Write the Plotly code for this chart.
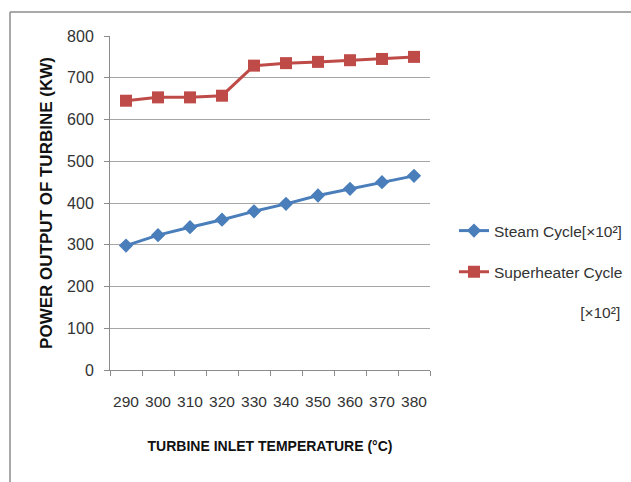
import plotly.graph_objects as go

# Turbine inlet temperature categories (°C)
temperatures = ["290", "300", "310", "320", "330", "340", "350", "360", "370", "380"]

# Power output of turbine (kW, ×10²)
steam_cycle = [298, 323, 342, 360, 380, 398, 418, 434, 450, 465]
superheater_cycle = [645, 653, 653, 657, 729, 735, 738, 742, 745, 750]

y_ticks = [0, 100, 200, 300, 400, 500, 600, 700, 800]

FONT = "Liberation Sans"
NBSP = "\u00a0"

fig = go.Figure()

fig.add_trace(go.Scatter(
    x=temperatures, y=steam_cycle,
    mode="lines+markers",
    name="Steam Cycle[×10²]",
    legendgroup="steam",
    line=dict(color="#4a7ebb", width=3),
    marker=dict(symbol="diamond", size=11, color="#4a7ebb"),
))

fig.add_trace(go.Scatter(
    x=temperatures, y=superheater_cycle,
    mode="lines+markers",
    name="Superheater Cycle<br><br>" + NBSP * 20 + "[×10²]",
    legendgroup="superheater",
    line=dict(color="#be4b48", width=3),
    marker=dict(symbol="square", size=12, color="#be4b48"),
))

# Outer frame of the chart area
frame = dict(color="#8c8c8c", width=1.5)
fig.add_shape(type="line", xref="paper", yref="paper",
              x0=-0.3125, x1=1.7, y0=1.072, y1=1.072, line=frame)
fig.add_shape(type="line", xref="paper", yref="paper",
              x0=-0.3125, x1=-0.3125, y0=1.072, y1=-0.4, line=frame)

fig.update_layout(
    width=631, height=482,
    margin=dict(l=110, r=201, t=36, b=112, autoexpand=False),
    paper_bgcolor="white",
    plot_bgcolor="white",
    font=dict(family=FONT, size=14, color="#333333"),
    showlegend=True,
    legend=dict(
        x=1.075, y=0.467, xanchor="left", yanchor="top",
        traceorder="grouped", tracegroupgap=18,
        valign="top",
        font=dict(family=FONT, size=15.5, color="#333333"),
        bgcolor="rgba(0,0,0,0)",
    ),
    xaxis=dict(
        type="category",
        range=[-0.5, 9.5],
        showline=True, linecolor="#8c8c8c", linewidth=1,
        ticks="outside", tickson="boundaries", ticklen=5, tickcolor="#8c8c8c",
        showgrid=False,
        tickangle=0,
        tickfont=dict(family=FONT, size=15.5, color="#333333"),
        ticklabelstandoff=17,
        title=dict(text="<b>TURBINE INLET TEMPERATURE (°C)</b>",
                   font=dict(family=FONT, size=14, color="#111111"),
                   standoff=32),
    ),
    yaxis=dict(
        range=[0, 800],
        tickvals=y_ticks,
        showline=True, linecolor="#8c8c8c", linewidth=1,
        ticks="outside", ticklen=5, tickcolor="#8c8c8c",
        showgrid=True, gridcolor="#a6a6a6", gridwidth=1,
        zeroline=False,
        tickfont=dict(family=FONT, size=16, color="#333333"),
        ticklabelstandoff=7,
        title=dict(text="<b>POWER OUTPUT OF TURBINE (KW)</b>",
                   font=dict(family=FONT, size=17, color="#111111"),
                   standoff=10),
    ),
)

fig.write_html("out.html")
